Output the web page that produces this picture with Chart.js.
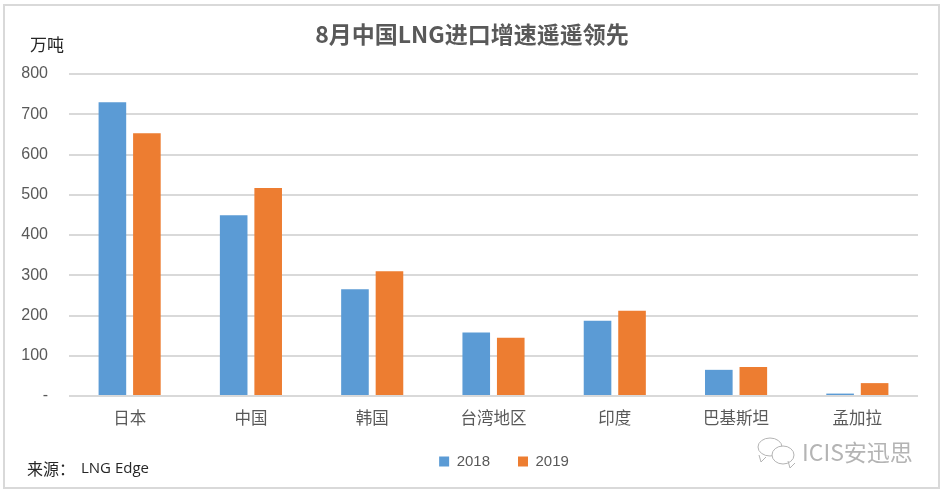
<!DOCTYPE html>
<html>
<head>
<meta charset="utf-8">
<style>
html, body { margin: 0; padding: 0; background: #fff; overflow: hidden; }
canvas { display: block; }
</style>
<script src="https://cdn.jsdelivr.net/npm/chart.js@4"></script>
</head>
<body>
<canvas id="lngChart" width="943" height="494"></canvas>
<script>
const categories = ['日本', '中国', '韩国', '台湾地区', '印度', '巴基斯坦', '孟加拉'];
const values2018 = [730, 449, 265, 158, 187, 65, 6];
const values2019 = [653, 517, 310, 145, 212, 72, 32];
const yTickLabels = ['-', '100', '200', '300', '400', '500', '600', '700', '800'];

const cjkFont = '"Noto Sans CJK SC", "Liberation Sans", sans-serif';
const numFont = '"Liberation Sans", "Noto Sans CJK SC", sans-serif';

// Cadre, unite, source et filigrane
const extrasPlugin = {
    id: 'extras',
    beforeDraw: function(chart) {
        const ctx = chart.ctx;
        ctx.save();
        ctx.fillStyle = '#ffffff';
        ctx.fillRect(0, 0, 943, 494);
        ctx.strokeStyle = '#d9d9d9';
        ctx.lineWidth = 2;
        ctx.strokeRect(4, 5, 935, 483);
        ctx.restore();
        // Legende et titre decales comme dans l'original
        chart.legend.left = 39;
        chart.legend.right = 969;
        chart.titleBlock.left = 26;
        chart.titleBlock.right = 918;
    },
    afterDraw: function(chart) {
        const ctx = chart.ctx;
        ctx.save();
        ctx.textBaseline = 'middle';
        ctx.textAlign = 'left';
        ctx.fillStyle = '#262626';
        ctx.font = '17px ' + cjkFont;
        ctx.fillText('万吨', 30, 45);
        ctx.font = '16px ' + cjkFont;
        ctx.fillText('来源：', 27, 469);
        ctx.font = '15px "Open Sans", sans-serif';
        ctx.fillText('LNG Edge', 81, 469);

        ctx.fillStyle = '#b4b4b4';
        ctx.font = '23px ' + cjkFont;
        ctx.fillText('ICIS安迅思', 802, 452);

        ctx.strokeStyle = '#b4b4b4';
        ctx.lineWidth = 1;
        ctx.fillStyle = '#ffffff';
        drawBubble(ctx, 770, 447, 12, 9, 761, 462);
        drawBubble(ctx, 783, 455, 11, 9, 790, 468);
        ctx.restore();
    }
};

function drawBubble(ctx, x, y, rx, ry, tailX, tailY) {
    ctx.beginPath();
    ctx.ellipse(x, y, rx, ry, 0, 0, Math.PI * 2);
    ctx.fill();
    ctx.stroke();
    ctx.beginPath();
    ctx.moveTo(tailX - 2, tailY - 7);
    ctx.lineTo(tailX, tailY);
    ctx.lineTo(tailX + 5, tailY - 5);
    ctx.stroke();
}

new Chart(document.getElementById('lngChart').getContext('2d'), {
    type: 'bar',
    data: {
        labels: categories,
        datasets: [{
            label: '2018',
            data: values2018,
            backgroundColor: '#5B9BD5'
        }, {
            label: '2019',
            data: values2019,
            backgroundColor: '#ED7D31'
        }]
    },
    options: {
        responsive: false,
        animation: false,
        devicePixelRatio: 1,
        categoryPercentage: 0.569,
        barPercentage: 0.8,
        layout: {
            padding: { left: 0, right: 25, top: 20, bottom: 15 }
        },
        plugins: {
            title: {
                display: true,
                text: '8月中国LNG进口增速遥遥领先',
                color: '#595959',
                font: { family: cjkFont, size: 23, weight: 'bold', lineHeight: 1.2 },
                padding: { top: 0, bottom: 26.4 }
            },
            legend: {
                position: 'bottom',
                fullSize: false,
                labels: {
                    color: '#595959',
                    font: { family: numFont, size: 15 },
                    boxWidth: 10,
                    boxHeight: 10,
                    padding: 28
                }
            },
            tooltip: { enabled: false }
        },
        scales: {
            x: {
                afterFit: function(scale) { scale.height = 30; },
                grid: { display: false },
                border: { display: false },
                ticks: {
                    color: '#595959',
                    font: { family: cjkFont, size: 16.5 },
                    maxRotation: 0,
                    padding: 4
                }
            },
            y: {
                min: 0,
                max: 800,
                afterFit: function(scale) { scale.width = 69; },
                grid: { color: '#d9d9d9', lineWidth: 2, drawTicks: false },
                border: { display: false },
                ticks: {
                    stepSize: 100,
                    color: '#595959',
                    font: { family: numFont, size: 16 },
                    padding: 21,
                    callback: function(value, index) { return yTickLabels[index]; }
                }
            }
        }
    },
    plugins: [extrasPlugin]
});
</script>
</body>
</html>
